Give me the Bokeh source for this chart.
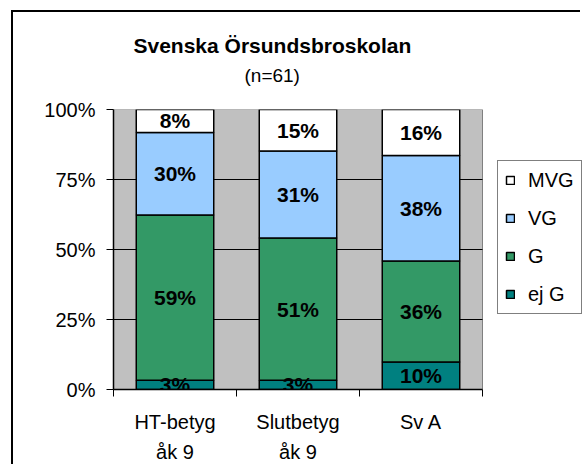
from bokeh.plotting import figure
from bokeh.models import (Range1d, FixedTicker, Legend, LegendItem, Title,
                          ColumnDataSource)
from bokeh.embed import file_html
from bokeh.resources import INLINE
from bokeh.core.properties import value

# ---- data ----
title_text = "Svenska Örsundsbroskolan"
subtitle_text = "(n=61)"
categories = ["HT-betyg\nåk 9", "Slutbetyg\nåk 9", "Sv A"]
series_names = ["ej G", "G", "VG", "MVG"]
ej_g = [3.3, 3.3, 9.8]
g_vals = [59.0, 50.8, 36.1]
vg_vals = [29.5, 31.1, 37.7]
mvg_vals = [8.2, 14.8, 16.4]
y_ticks = [0, 25, 50, 75, 100]
y_tick_labels = ["0%", "25%", "50%", "75%", "100%"]
series_colors = ["#008080", "#339966", "#99CCFF", "#FFFFFF"]

FONT = "Liberation Sans"
W, H = 569, 454            # canvas starts at page (13, 12) because of the chart border
FL, FT, FH = 100, 97, 280  # frame left / top / height inside canvas
PLOT_W = 369               # width of the grey plot area (categories 0..3)
FW = W - FL                # frame extends to the right edge so the legend is not clipped
n_cat = len(categories)
x_end = n_cat * FW / PLOT_W

p = figure(width=W, height=H, x_range=Range1d(0, x_end), y_range=Range1d(0, 100),
           output_backend="svg", toolbar_location=None, title=None,
           min_border_left=FL, min_border_right=0,
           min_border_top=FT, min_border_bottom=H - FT - FH)
p.styles = {"margin-left": "11px", "margin-top": "10px",
            "border-left": "2px solid black", "border-top": "2px solid black"}
p.background_fill_color = "white"
p.border_fill_color = "white"
p.outline_line_color = None
p.xgrid.visible = False
p.ygrid.visible = False

# grey plot area and its horizontal grid lines
p.quad(left=[0], right=[n_cat], bottom=[y_ticks[0]], top=[y_ticks[-1]],
       fill_color="#C0C0C0", line_color="#808080", line_width=1)
inner = y_ticks[1:-1]
p.segment(x0=[0] * len(inner), x1=[n_cat] * len(inner), y0=inner, y1=inner,
          line_color="black", line_width=1)

xs = [i + 0.5 for i in range(n_cat)]
src = ColumnDataSource(dict(x=xs, ejG=ej_g, G=g_vals, VG=vg_vals, MVG=mvg_vals))
rs = p.vbar_stack(["ejG", "G", "VG", "MVG"], x="x", width=0.63, source=src,
                  fill_color=series_colors, line_color="black", line_width=1.5)

# value labels (centre of each segment)
lx, ly, lt = [], [], []
for i in range(n_cat):
    base = 0.0
    for arr in (ej_g, g_vals, vg_vals, mvg_vals):
        v = arr[i]
        lx.append(xs[i])
        ly.append(base + v / 2)
        lt.append(f"{round(v)}%")
        base += v
p.text(x=lx, y=ly, text=lt, text_align="center", text_baseline="middle",
       text_font=value(FONT), text_font_size="21px", text_font_style="bold",
       text_color="black")

# x axis
xa = p.xaxis[0]
xa.bounds = (0, n_cat)
xa.ticker = FixedTicker(ticks=xs, minor_ticks=list(range(n_cat + 1)))
xa.major_label_overrides = {x: c for x, c in zip(xs, categories)}
xa.major_tick_line_color = None
xa.major_tick_out = 7
xa.major_tick_in = 0
xa.minor_tick_line_color = "black"
xa.minor_tick_out = 7
xa.minor_tick_in = 0
xa.axis_line_color = "black"
xa.axis_line_width = 1.5
xa.major_label_standoff = 14
xa.major_label_text_font = FONT
xa.major_label_text_font_size = "20px"
xa.major_label_text_color = "black"
xa.major_label_text_line_height = 1.4

# y axis
ya = p.yaxis[0]
ya.ticker = FixedTicker(ticks=y_ticks, minor_ticks=[])
ya.major_label_overrides = {t: l for t, l in zip(y_ticks, y_tick_labels)}
ya.major_tick_out = 7
ya.major_tick_in = 0
ya.major_tick_line_color = "black"
ya.minor_tick_line_color = None
ya.axis_line_color = "black"
ya.axis_line_width = 1.5
ya.major_label_standoff = 11
ya.major_label_text_font = FONT
ya.major_label_text_font_size = "20px"
ya.major_label_text_color = "black"

# titles (stacked above the frame: spacer, subtitle, main title)
p.add_layout(Title(text=" ", text_font_size="10px", standoff=10.8), "above")
p.add_layout(Title(text=subtitle_text, align="left", offset=131, standoff=0,
                   text_font=FONT, text_font_size="19px", text_font_style="normal",
                   text_color="black"), "above")
p.add_layout(Title(text=title_text, align="left", offset=20, standoff=10.7,
                   text_font=FONT, text_font_size="21px", text_font_style="bold",
                   text_color="black"), "above")

# legend (inside the frame, right of the grey plot area)
items = [LegendItem(label=n, renderers=[r]) for n, r in reversed(list(zip(series_names, rs)))]
legend = Legend(items=items, location=(384, 75), orientation="vertical",
                border_line_color="black", border_line_width=1,
                background_fill_color="white", background_fill_alpha=1,
                label_text_font=FONT, label_text_font_size="20px", label_text_color="black",
                glyph_width=10, glyph_height=10, label_height=24, label_standoff=13,
                spacing=14, padding=7, margin=0)
p.add_layout(legend)

open("out.html", "w").write(file_html(p, INLINE))
